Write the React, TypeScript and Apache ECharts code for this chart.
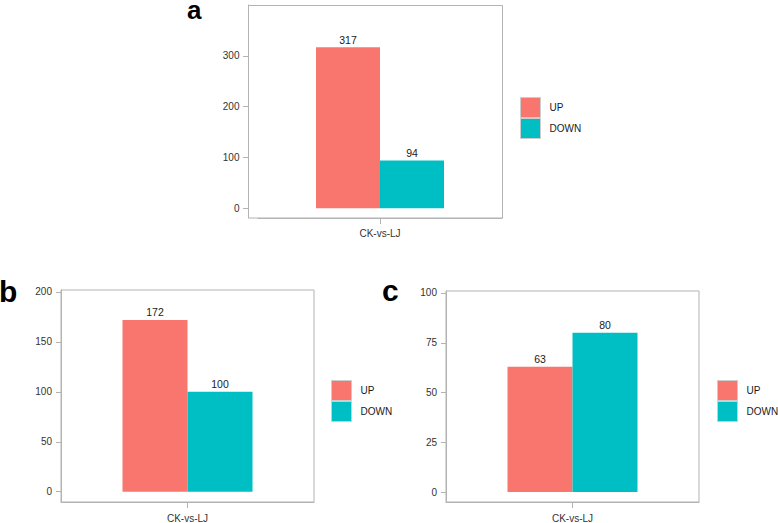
import React, { useEffect, useRef } from "react";
import * as echarts from "echarts";

const categories = ["CK-vs-LJ"];
const seriesNames = ["UP", "DOWN"];
const panelAUp = [317];
const panelADown = [94];
const panelBUp = [172];
const panelBDown = [100];
const panelCUp = [63];
const panelCDown = [80];
const ticksA = [0, 100, 200, 300];
const ticksB = [0, 50, 100, 150, 200];
const ticksC = [0, 25, 50, 75, 100];
const panelLetters = ["a", "b", "c"];

const colors = ["#F8766D", "#00BFC4"];
const gray = "#b3b3b3";
const FONT = '"Liberation Sans", Arial, sans-serif';

function xAxisFor(gridIndex: number, margin: number) {
  return {
    type: "category",
    gridIndex,
    data: categories,
    axisLine: { show: true, onZero: false, lineStyle: { color: gray, width: 1 } },
    axisTick: { show: true, alignWithLabel: true, length: 6, lineStyle: { color: gray } },
    axisLabel: { fontSize: 10, color: "#333", margin, fontFamily: FONT },
    splitLine: { show: false },
  };
}

function yAxisFor(gridIndex: number, min: number, max: number, ticks: number[], margin: number, offset = 0) {
  return {
    type: "value",
    gridIndex,
    min,
    max,
    offset,
    axisLine: { show: true, onZero: false, lineStyle: { color: gray, width: 1 } },
    axisTick: { show: true, length: 5, customValues: ticks, lineStyle: { color: gray } },
    axisLabel: { fontSize: 10, color: "#333", margin, customValues: ticks, fontFamily: FONT },
    splitLine: { show: false },
  };
}

function barSeries(name: string, data: number[], idx: number, color: string, width: number) {
  return {
    type: "bar",
    name,
    data,
    xAxisIndex: idx,
    yAxisIndex: idx,
    barWidth: width,
    barGap: "0%",
    itemStyle: { color },
    label: { show: true, position: "top", distance: 2, fontSize: 10.5, color: "#1a1a1a", fontFamily: FONT },
  };
}

function legendAt(left: number, top: number) {
  return {
    left,
    top,
    orient: "vertical",
    padding: 0,
    itemWidth: 20,
    itemHeight: 20,
    itemGap: 0,
    icon: "rect",
    selectedMode: false,
    data: seriesNames,
    itemStyle: { borderColor: "#cccccc", borderWidth: 1 },
    textStyle: { fontSize: 10, color: "#1a1a1a", fontFamily: FONT, padding: [0, 0, 0, 4] },
  };
}

export default function App() {
  const ref = useRef<HTMLDivElement>(null);
  useEffect(() => {
    if (!ref.current) return;
    const chart = echarts.init(ref.current, null, { renderer: "svg" });
    chart.setOption({
      animation: false,
      backgroundColor: "#ffffff",
      textStyle: { fontFamily: FONT },
      grid: [
        { left: 258, top: 5, width: 244, height: 213, show: false },
        { left: 61, top: 290, width: 253, height: 212, show: true, borderColor: gray, borderWidth: 1, backgroundColor: "transparent" },
        { left: 446, top: 291, width: 253, height: 212, show: true, borderColor: gray, borderWidth: 1, backgroundColor: "transparent" },
      ],
      xAxis: [xAxisFor(0, 10), xAxisFor(1, 11), xAxisFor(2, 11)],
      yAxis: [
        yAxisFor(0, -19, 400, ticksA, 8.5, 10),
        yAxisFor(1, -10.3, 202, ticksB, 9),
        yAxisFor(2, -5, 101, ticksC, 9),
      ],
      legend: [legendAt(520, 97), legendAt(331, 380), legendAt(717, 380)],
      series: [
        barSeries(seriesNames[0], panelAUp, 0, colors[0], 64),
        barSeries(seriesNames[1], panelADown, 0, colors[1], 64),
        barSeries(seriesNames[0], panelBUp, 1, colors[0], 65),
        barSeries(seriesNames[1], panelBDown, 1, colors[1], 65),
        barSeries(seriesNames[0], panelCUp, 2, colors[0], 65),
        barSeries(seriesNames[1], panelCDown, 2, colors[1], 65),
      ],
      graphic: [
        {
          type: "rect",
          shape: { x: 248.5, y: 5.5, width: 254, height: 212.5 },
          style: { fill: "none", stroke: gray, lineWidth: 1 },
          silent: true,
        },
        {
          type: "text",
          x: 187,
          y: 10,
          style: { text: panelLetters[0], font: `bold 26px ${FONT}`, fill: "#000", verticalAlign: "middle", align: "left" },
        },
        {
          type: "text",
          x: -1,
          y: 291.5,
          style: { text: panelLetters[1], font: `bold 30px ${FONT}`, fill: "#000", verticalAlign: "middle", align: "left" },
        },
        {
          type: "text",
          x: 382,
          y: 290,
          style: { text: panelLetters[2], font: `bold 30px ${FONT}`, fill: "#000", verticalAlign: "middle", align: "left" },
        },
      ],
    });
    return () => chart.dispose();
  }, []);
  return <div ref={ref} style={{ position: "absolute", left: 0, top: 0, width: 778, height: 523 }} />;
}
